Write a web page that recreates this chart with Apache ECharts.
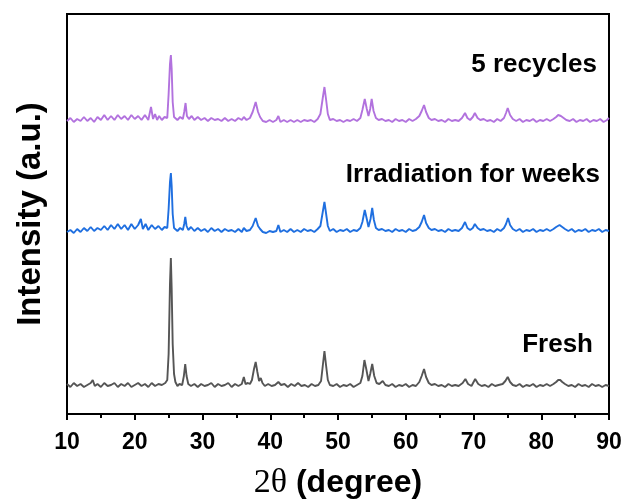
<!DOCTYPE html>
<html>
<head>
<meta charset="utf-8">
<script src="https://cdn.jsdelivr.net/npm/echarts@6/dist/echarts.min.js"></script>
<style>html,body{margin:0;padding:0;background:#fff;}#c{width:627px;height:500px;}</style>
</head>
<body>
<div id="c"></div>
<script>
var xTicks = [10, 20, 30, 40, 50, 60, 70, 80, 90];
var seriesNames = ['Fresh', 'Irradiation for weeks', '5 recycles'];
var fresh = [[10,30],[10.5,27],[11,31],[11.5,28],[12,30],[12.5,27],[13,29],[13.5,31],[13.8,34],[14.1,28],[14.5,30],[15,27],[15.5,31],[16,28],[16.5,29],[17,31],[17.5,27],[18,30],[18.5,28],[19,31],[19.5,27],[20,29],[20.5,31],[21,28],[21.5,30],[22,27],[22.5,31],[23,28],[23.5,30],[24,29],[24.5,31],[24.8,34],[25.0,60],[25.2,130],[25.33,156],[25.45,125],[25.6,70],[25.8,40],[26.0,32],[26.3,28],[26.6,30],[27.0,29],[27.25,38],[27.45,50],[27.65,38],[27.9,30],[28.3,28],[28.8,30],[29.3,27],[29.8,30],[30.3,28],[30.8,29],[31.3,31],[31.8,27],[32.3,30],[32.8,28],[33.3,29],[33.8,31],[34.3,27],[34.8,30],[35.3,28],[35.8,30],[36.1,37],[36.35,30],[36.7,31],[37.0,30],[37.3,34],[37.6,45],[37.85,52],[38.1,42],[38.35,33],[38.6,36],[38.85,31],[39.2,28],[39.7,30],[40.2,28],[40.7,29],[41.2,32],[41.6,29],[42.1,30],[42.6,27],[43.1,30],[43.6,28],[44.1,31],[44.6,28],[45.1,29],[45.6,27],[46.1,30],[46.6,28],[47.1,29],[47.5,33],[47.75,48],[48.0,63],[48.25,48],[48.5,34],[48.8,29],[49.3,28],[49.8,30],[50.3,27],[50.8,29],[51.3,28],[51.8,30],[52.3,27],[52.8,29],[53.3,31],[53.6,38],[53.9,54],[54.2,44],[54.5,33],[54.75,40],[55.05,50],[55.35,38],[55.7,31],[56.1,30],[56.6,33],[57.0,29],[57.5,28],[58.0,30],[58.5,27],[59.0,29],[59.5,28],[60.0,30],[60.5,27],[61.0,29],[61.5,28],[62.0,32],[62.35,38],[62.7,45],[63.0,37],[63.4,31],[63.8,29],[64.3,30],[64.8,28],[65.3,29],[65.8,27],[66.3,30],[66.8,28],[67.3,29],[67.8,28],[68.4,31],[68.8,35],[69.2,30],[69.7,28],[70.25,35],[70.7,30],[71.2,28],[71.7,29],[72.2,27],[72.7,30],[73.2,28],[73.7,29],[74.3,30],[74.7,33],[75.05,37],[75.4,32],[75.8,29],[76.3,28],[76.8,30],[77.3,27],[77.8,29],[78.3,28],[78.8,30],[79.3,27],[79.8,29],[80.3,28],[80.8,30],[81.3,28],[81.8,30],[82.2,32],[82.5,34],[82.8,34],[83.1,32],[83.5,30],[84.0,28],[84.5,29],[85.0,27],[85.5,30],[86.0,28],[86.5,29],[87.0,27],[87.5,30],[88.0,28],[88.5,29],[89.0,27],[89.5,29],[90,28]];
var irradiation = [[10,182],[10.5,184],[11,181],[11.5,185],[12,182],[12.5,186],[13,183],[13.5,187],[14,183],[14.5,186],[15,184],[15.5,188],[16,184],[16.5,189],[17,185],[17.5,190],[18,185],[18.5,189],[19,184],[19.5,190],[20,185],[20.5,189],[20.9,195],[21.2,185],[21.6,190],[22,184],[22.5,189],[23,185],[23.5,188],[24,184],[24.4,187],[24.8,186],[25.0,205],[25.2,232],[25.33,241],[25.45,228],[25.6,200],[25.8,186],[26.0,188],[26.3,183],[26.7,186],[27.1,184],[27.3,190],[27.46,197],[27.65,188],[27.9,184],[28.3,187],[28.8,183],[29.3,186],[29.8,183],[30.3,185],[30.8,182],[31.3,186],[31.8,183],[32.3,185],[32.8,182],[33.3,185],[33.8,183],[34.3,184],[34.8,182],[35.3,185],[35.8,182],[36.1,186],[36.5,183],[37.0,184],[37.4,188],[37.85,196],[38.2,188],[38.5,185],[38.9,182],[39.4,181],[39.9,183],[40.4,182],[40.9,183],[41.2,189],[41.5,182],[42,184],[42.5,182],[43,185],[43.5,182],[44,184],[44.5,182],[45,185],[45.5,183],[46,184],[46.5,182],[47,185],[47.4,188],[47.75,202],[48,212],[48.25,200],[48.5,188],[48.8,183],[49.3,185],[49.8,182],[50.3,184],[50.8,183],[51.3,185],[51.8,182],[52.3,184],[52.8,183],[53.3,186],[53.6,192],[53.95,204],[54.25,195],[54.5,187],[54.8,195],[55.05,206],[55.3,194],[55.6,186],[56.0,184],[56.5,185],[57,183],[57.5,184],[58,182],[58.5,185],[59,183],[59.5,184],[60,182],[60.5,185],[61,183],[61.5,184],[62,187],[62.35,192],[62.7,199],[63.0,191],[63.4,186],[63.8,184],[64.3,185],[64.8,183],[65.3,184],[65.8,182],[66.3,185],[66.8,183],[67.3,184],[67.8,183],[68.3,186],[68.75,192],[69.1,186],[69.5,184],[69.9,186],[70.2,190],[70.6,186],[71,184],[71.5,185],[72,183],[72.5,184],[73,182],[73.5,185],[74,183],[74.5,186],[74.8,190],[75.1,196],[75.4,189],[75.8,185],[76.3,183],[76.8,185],[77.3,182],[77.8,184],[78.3,183],[78.8,185],[79.3,182],[79.8,184],[80.3,183],[80.8,185],[81.3,183],[81.8,185],[82.2,187],[82.7,189],[83.1,187],[83.5,185],[84,183],[84.5,185],[85,182],[85.5,184],[86,183],[86.5,185],[87,182],[87.5,184],[88,183],[88.5,185],[89,182],[89.5,184],[90,183]];
var recycles = [[10,293],[10.5,296],[11,292],[11.5,295],[12,293],[12.5,297],[13,293],[13.5,296],[14,292],[14.5,297],[15,294],[15.5,299],[16,294],[16.5,298],[17,294],[17.5,299],[18,295],[18.5,298],[19,294],[19.5,299],[20,295],[20.5,298],[21,294],[21.5,299],[22,294],[22.4,307],[22.7,295],[23.0,300],[23.3,294],[23.6,298],[24,294],[24.4,297],[24.8,296],[25.0,320],[25.2,350],[25.33,359],[25.45,345],[25.6,312],[25.8,297],[26.0,299],[26.3,294],[26.7,297],[27.1,295],[27.3,302],[27.5,311],[27.7,298],[28,295],[28.4,298],[28.8,294],[29.3,297],[29.8,294],[30.3,296],[30.8,293],[31.3,296],[31.8,294],[32.3,295],[32.8,293],[33.3,296],[33.8,293],[34.3,295],[34.8,293],[35.3,296],[35.8,294],[36.1,297],[36.5,294],[37.0,296],[37.4,302],[37.85,312],[38.2,302],[38.5,297],[38.9,293],[39.4,292],[39.9,294],[40.4,292],[40.9,294],[41.2,298],[41.5,292],[42,294],[42.5,292],[43,294],[43.5,292],[44,294],[44.5,292],[45,294],[45.5,293],[46,294],[46.5,292],[47,295],[47.4,300],[47.75,316],[48,327],[48.25,314],[48.5,300],[48.8,294],[49.3,295],[49.8,293],[50.3,294],[50.8,292],[51.3,294],[51.8,293],[52.3,295],[52.8,293],[53.3,296],[53.6,304],[53.95,315],[54.25,305],[54.5,298],[54.75,305],[54.97,315],[55.25,303],[55.6,296],[56,294],[56.5,295],[57,293],[57.5,294],[58,292],[58.5,295],[59,293],[59.5,294],[60,292],[60.5,295],[61,293],[61.5,295],[62,298],[62.35,303],[62.7,309],[63,302],[63.4,296],[63.8,294],[64.3,295],[64.8,293],[65.3,294],[65.8,292],[66.3,295],[66.8,293],[67.3,294],[67.8,293],[68.3,296],[68.75,301],[69.1,296],[69.5,294],[69.9,297],[70.2,301],[70.6,296],[71,294],[71.5,295],[72,293],[72.5,294],[73,292],[73.5,295],[74,293],[74.5,296],[74.8,301],[75.05,306],[75.4,299],[75.8,295],[76.3,293],[76.8,295],[77.3,292],[77.8,294],[78.3,293],[78.8,295],[79.3,292],[79.8,294],[80.3,293],[80.8,295],[81.3,293],[81.8,295],[82.2,297],[82.5,299],[82.9,298],[83.3,296],[83.7,294],[84.2,293],[84.7,295],[85.2,292],[85.7,294],[86.2,293],[86.7,295],[87.2,292],[87.7,294],[88.2,293],[88.7,295],[89.2,292],[89.7,294],[90,296]];
var colors = ['#555555', '#1f6fe0', '#b272de'];

var chart = echarts.init(document.getElementById('c'), null, {renderer: 'canvas'});
var FONT = '"Liberation Sans", Arial, sans-serif';
var option = {
  animation: false,
  backgroundColor: '#fff',
  grid: {left: 67, right: 18, top: 14, bottom: 86, containLabel: false, outerBoundsMode: 'none', show: true, borderColor: '#000', borderWidth: 2, backgroundColor: 'transparent'},
  xAxis: {
    type: 'value', min: 10, max: 90, interval: 10,
    name: '{a|2θ}{b| (degree)}', nameLocation: 'middle', nameGap: 52,
    nameTextStyle: {rich: {
      a: {fontFamily: '"Liberation Serif", "Times New Roman", serif', fontSize: 34, color: '#000'},
      b: {fontFamily: FONT, fontSize: 32, fontWeight: 'bold', color: '#000'}
    }},
    axisLine: {show: true, lineStyle: {color: '#000', width: 2}},
    axisTick: {show: true, inside: false, length: 6, lineStyle: {color: '#000', width: 2}},
    minorTick: {show: true, splitNumber: 2, length: 4, lineStyle: {color: '#000', width: 2}},
    axisLabel: {color: '#000', fontFamily: FONT, fontWeight: 'bold', fontSize: 23, margin: 17,
      formatter: function (v) { return xTicks.indexOf(v) >= 0 ? String(v) : ''; }},
    splitLine: {show: false}
  },
  yAxis: {
    type: 'value', min: 0, max: 400,
    name: 'Intensity (a.u.)', nameLocation: 'middle', nameGap: 20,
    nameTextStyle: {fontFamily: FONT, fontWeight: 'bold', fontSize: 33, color: '#000'},
    axisLine: {show: true, lineStyle: {color: '#000', width: 2}},
    axisTick: {show: false}, axisLabel: {show: false}, splitLine: {show: false}
  },
  series: [
    {name: seriesNames[0], type: 'line', data: fresh, showSymbol: false, symbol: 'none', lineStyle: {color: colors[0], width: 1.9}, z: 3},
    {name: seriesNames[1], type: 'line', data: irradiation, showSymbol: false, symbol: 'none', lineStyle: {color: colors[1], width: 1.9}, z: 3},
    {name: seriesNames[2], type: 'line', data: recycles, showSymbol: false, symbol: 'none', lineStyle: {color: colors[2], width: 1.9}, z: 3}
  ],
  graphic: [
    {type: 'text', right: 34, top: 332, style: {text: seriesNames[0], font: 'bold 26px ' + FONT, fill: '#000'}},
    {type: 'text', right: 27, top: 162, style: {text: seriesNames[1], font: 'bold 26px ' + FONT, fill: '#000'}},
    {type: 'text', right: 30, top: 52, style: {text: seriesNames[2], font: 'bold 26px ' + FONT, fill: '#000'}}
  ]
};
chart.setOption(option);
</script>
</body>
</html>
